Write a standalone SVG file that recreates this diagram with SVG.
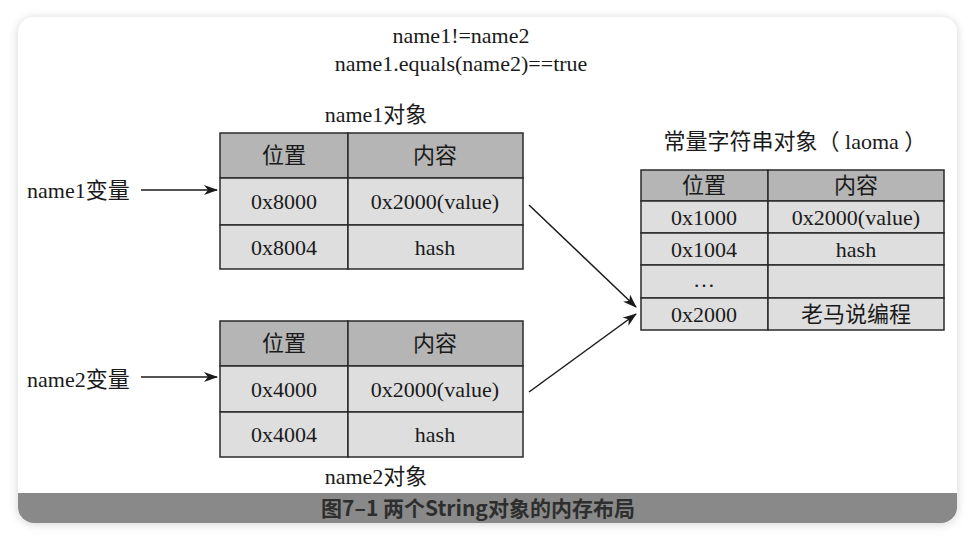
<svg xmlns="http://www.w3.org/2000/svg" width="975" height="542" viewBox="0 0 975 542">
<defs>
<filter id="shadow" x="-5%" y="-5%" width="110%" height="110%">
<feDropShadow dx="0" dy="1" stdDeviation="5" flood-color="#000" flood-opacity="0.18"/>
</filter>
<clipPath id="cardclip"><rect x="18" y="17" width="939" height="506" rx="16" ry="16"/></clipPath>
<marker id="ah" viewBox="0 0 14 10" refX="13" refY="5" markerWidth="14" markerHeight="10" markerUnits="userSpaceOnUse" orient="auto">
<path d="M0,0 L14,5 L0,10 L4,5 Z" fill="#1a1a1a"/>
</marker>
</defs>
<style>
.t{font-family:"Liberation Serif","Noto Sans CJK SC",serif;font-size:22px;fill:#1a1a1a;text-anchor:middle}
.l{font-family:"Liberation Serif","Noto Sans CJK SC",serif;font-size:22px;fill:#1a1a1a}
.hd{fill:#b5b5b5;stroke:#2a2a2a;stroke-width:1.5}
.bd{fill:#dedede;stroke:#2a2a2a;stroke-width:1.5}
.cn{stroke:#1a1a1a;stroke-width:1.5;fill:none;marker-end:url(#ah)}
.cap{font-family:"Noto Sans CJK SC","Roboto",sans-serif;font-weight:bold;font-size:21px;fill:#2e2e2e;text-anchor:middle}
</style>
<rect x="0" y="0" width="975" height="542" fill="#ffffff"/>
<rect x="18" y="17" width="939" height="506" rx="16" ry="16" fill="#ffffff" filter="url(#shadow)"/>
<g clip-path="url(#cardclip)">
<rect x="18" y="493" width="939" height="30" fill="#898989"/>
</g>
<text class="cap" x="478" y="516">图7–1 两个String对象的内存布局</text>

<g id="header-text">
<text class="t" x="461" y="43">name1!=name2</text>
<text class="t" x="461" y="71">name1.equals(name2)==true</text>
</g>

<g id="name1-var"><text class="l" x="27" y="198">name1变量</text></g>
<g id="name2-var"><text class="l" x="27" y="387">name2变量</text></g>

<g id="name1-obj">
<text class="t" x="376" y="122">name1对象</text>
<rect class="hd" x="220" y="133" width="128" height="45"/>
<rect class="hd" x="348" y="133" width="175" height="45"/>
<rect class="bd" x="220" y="178" width="128" height="47"/>
<rect class="bd" x="348" y="178" width="175" height="47"/>
<rect class="bd" x="220" y="225" width="128" height="44"/>
<rect class="bd" x="348" y="225" width="175" height="44"/>
<text class="t" x="284" y="163">位置</text>
<text class="t" x="435" y="163">内容</text>
<text class="t" x="284" y="209">0x8000</text>
<text class="t" x="435" y="209">0x2000(value)</text>
<text class="t" x="284" y="255">0x8004</text>
<text class="t" x="435" y="255">hash</text>
</g>

<g id="name2-obj">
<rect class="hd" x="220" y="321" width="128" height="45"/>
<rect class="hd" x="348" y="321" width="175" height="45"/>
<rect class="bd" x="220" y="366" width="128" height="46"/>
<rect class="bd" x="348" y="366" width="175" height="46"/>
<rect class="bd" x="220" y="412" width="128" height="45"/>
<rect class="bd" x="348" y="412" width="175" height="45"/>
<text class="t" x="284" y="351">位置</text>
<text class="t" x="435" y="351">内容</text>
<text class="t" x="284" y="397">0x4000</text>
<text class="t" x="435" y="397">0x2000(value)</text>
<text class="t" x="284" y="442">0x4004</text>
<text class="t" x="435" y="442">hash</text>
<text class="t" x="376" y="484">name2对象</text>
</g>

<g id="const-obj">
<text class="t" x="795" y="149">常量字符串对象（ laoma ）</text>
<rect class="hd" x="641" y="170" width="127" height="31"/>
<rect class="hd" x="768" y="170" width="176" height="31"/>
<rect class="bd" x="641" y="201" width="127" height="32"/>
<rect class="bd" x="768" y="201" width="176" height="32"/>
<rect class="bd" x="641" y="233" width="127" height="32"/>
<rect class="bd" x="768" y="233" width="176" height="32"/>
<rect class="bd" x="641" y="265" width="127" height="33"/>
<rect class="bd" x="768" y="265" width="176" height="33"/>
<rect class="bd" x="641" y="298" width="127" height="32"/>
<rect class="bd" x="768" y="298" width="176" height="32"/>
<text class="t" x="704" y="193">位置</text>
<text class="t" x="856" y="193">内容</text>
<text class="t" x="704" y="225">0x1000</text>
<text class="t" x="856" y="225">0x2000(value)</text>
<text class="t" x="704" y="257">0x1004</text>
<text class="t" x="856" y="257">hash</text>
<text class="t" x="704" y="287">…</text>
<text class="t" x="704" y="322">0x2000</text>
<text class="t" x="856" y="322">老马说编程</text>
</g>

<g id="connectors">
<line class="cn" x1="141" y1="190" x2="217" y2="190"/>
<line class="cn" x1="141" y1="377" x2="217" y2="377"/>
<line class="cn" x1="529" y1="205" x2="636" y2="307"/>
<line class="cn" x1="529" y1="392" x2="636" y2="314"/>
</g>
</svg>
